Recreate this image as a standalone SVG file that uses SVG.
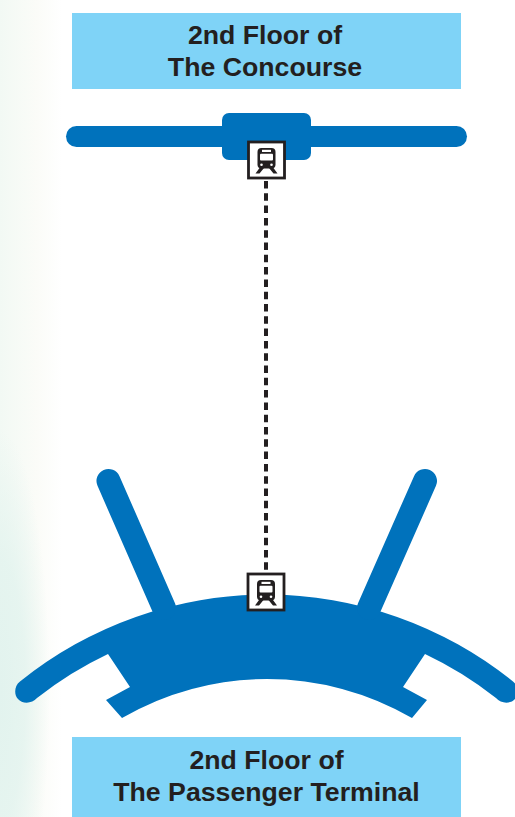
<svg xmlns="http://www.w3.org/2000/svg" width="515" height="817" viewBox="0 0 515 817">
<style>
.lbl{fill:#7fd3f7}
.t{font-family:"Liberation Sans",Arial,sans-serif;font-weight:700;font-size:26.7px;fill:#231f20;text-anchor:middle}
.b{fill:#0072bc}
.box{fill:#fff;stroke:#231f20;stroke-width:2.8}
.k{fill:#231f20}
.w{fill:#fff}
</style>
<defs>
<linearGradient id="bg" x1="0" x2="1" y1="0" y2="0"><stop offset="0" stop-color="#f2f9f4"/><stop offset=".6" stop-color="#fbfcf8"/><stop offset="1" stop-color="#fff"/></linearGradient>
<radialGradient id="bg2"><stop offset="0" stop-color="#e2f3ee"/><stop offset=".5" stop-color="#e2f3ee" stop-opacity=".8"/><stop offset="1" stop-color="#e2f3ee" stop-opacity="0"/></radialGradient>
<g id="train">
<rect class="box" x="0" y="0" width="36" height="36"/>
<rect class="k" x="9" y="6" width="18" height="20.500" rx="4"/>
<rect class="w" x="13.500" y="7.800" width="9" height="2.200"/>
<rect class="w" x="11.500" y="11.800" width="13" height="6.800" rx="1"/>
<circle class="w" cx="13" cy="22.800" r="1.300"/><circle class="w" cx="23" cy="22.800" r="1.300"/>
<path class="k" d="M11 26h4.500l-4.500 5.500h-4zM25 26h-4.500l4.500 5.500h4z"/>
</g>
</defs>
<rect width="515" height="817" fill="#fff"/>
<rect width="62" height="817" fill="url(#bg)"/>
<ellipse cx="0" cy="690" rx="50" ry="260" fill="url(#bg2)"/>
<g id="label-concourse"><rect class="lbl" x="72" y="13" width="389" height="76"/><text class="t" x="265" y="44">2nd Floor of</text><text class="t" x="265" y="76">The Concourse</text></g>
<g id="label-terminal"><rect class="lbl" x="72" y="737" width="389" height="80"/><text class="t" x="266.500" y="769">2nd Floor of</text><text class="t" x="266.500" y="801">The Passenger Terminal</text></g>
<g id="concourse"><rect class="b" x="66" y="126" width="401" height="21" rx="10.500"/><rect class="b" x="222" y="113" width="89" height="47" rx="7"/></g>
<g id="terminal">
<path class="b" d="M20 681.500A392.700 392.700 0 0 1 513 681.500C519 686 519 695 515 699C511 704 501 704 496 698A370 370 0 0 0 425 654L403 687L427 700L412 718A289 289 0 0 0 122 718L106 700L130 687L108 654A370 370 0 0 0 37 698C32 704 22 704 18 699C14 695 14 686 20 681.500Z"/>
<path d="M108.500 481L164 608M425 481L369 608" stroke="#0072bc" stroke-width="24" stroke-linecap="round" fill="none"/>
</g>
<g id="connectors"><path d="M266 181V573" stroke="#231f20" stroke-width="4" stroke-dasharray="7.500 4.800" fill="none"/></g>
<g id="station-top"><use href="#train" x="248.500" y="142"/></g>
<g id="station-bottom"><use href="#train" x="248" y="574"/></g>
</svg>
